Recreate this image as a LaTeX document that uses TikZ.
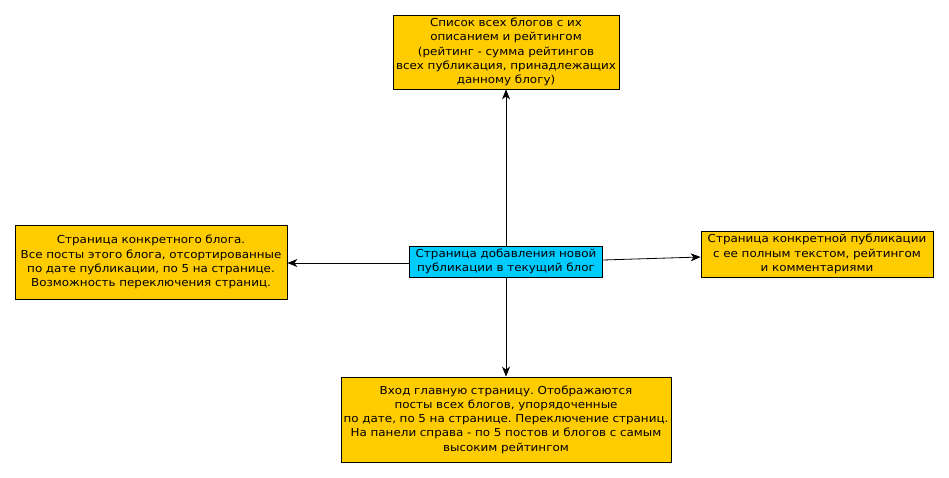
\documentclass[tikz,border=0pt]{standalone}
\usepackage{fontspec}
\setmainfont[FakeStretch=1.085]{DejaVu Sans}
\usetikzlibrary{arrows.meta}
\frenchspacing
\definecolor{boxyellow}{HTML}{FFCC00}
\definecolor{boxblue}{HTML}{00CCFF}
\tikzset{
  pagebox/.style={draw=black, fill=boxyellow, line width=0.8pt, align=center, inner sep=0pt,
    font=\fontsize{11}{14.2}\selectfont\frenchspacing},
  bluebox/.style={pagebox, fill=boxblue},
  link/.style={-{Stealth[length=10pt,width=8pt,inset=3pt]}, line width=0.8pt}
}
\begin{document}
\begin{tikzpicture}[x=1pt,y=-1pt]
\useasboundingbox (0,0) rectangle (949,478);
\node[pagebox, text width=226pt, minimum height=74pt] (top) at (506,52)
  {Список всех блогов с их\\описанием и рейтингом\\(рейтинг - сумма рейтингов\\всех публикация, принадлежащих\\данному блогу)};
\node[pagebox, text width=272pt, minimum height=74pt] (left) at (151,262)
  {Страница конкретного блога.\\Все посты этого блога, отсортированные\\по дате публикации, по 5 на странице.\\Возможность переключения страниц.};
\node[bluebox, text width=193pt, minimum height=31pt] (center) at (506,261.5)
  {Страница добавления новой\\публикации в текущий блог};
\node[pagebox, text width=232pt, minimum height=46pt] (right) at (817,254)
  {Страница конкретной публикации\\с ее полным текстом, рейтингом\\и комментариями};
\node[pagebox, text width=330pt, minimum height=85pt] (bottom) at (506,419.5)
  {Вход главную страницу. Отображаются\\посты всех блогов, упорядоченные\\по дате, по 5 на странице. Переключение страниц.\\На панели справа - по 5 постов и блогов с самым\\высоким рейтингом};
\draw[link] (center.north) -- (top.south);
\draw[link] (center.south) -- (bottom.north);
\draw[link] ([yshift=-1.5pt]center.west) -- ([yshift=-1pt]left.east);
\draw[link] ([yshift=1.5pt]center.east) -- ([yshift=-3pt]right.west);
\end{tikzpicture}
\end{document}
